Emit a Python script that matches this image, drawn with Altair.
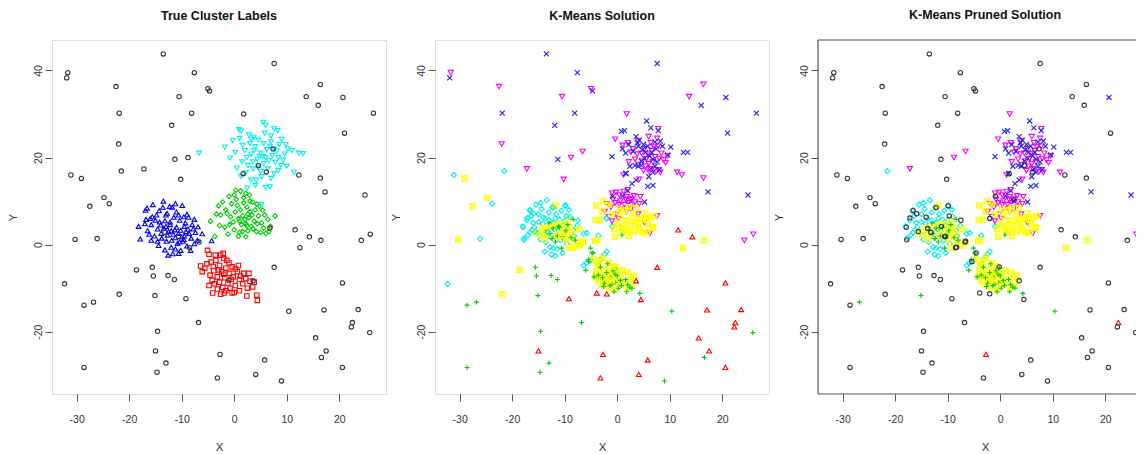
import altair as alt
import pandas as pd

# ---------------- data ----------------
# background / noise points (shared by all panels)
noise_x = [-13.5,-31.7,-31.9,-7.6,7.6,-22.5,-5.0,-4.7,-10.5,16.4,
           13.7,20.7,16.0,-21.9,-8.1,1.8,26.5,-11.9,21.0,-22.0,
           7.4,-31.1,-29.1,-11.3,-8.8,-21.5,-17.2,-10.2,1.7,4.6,
           6.1,12.3,16.4,17.3,24.9,-24.8,-23.8,-27.5,-30.3,-26.1,
           -13.2,-10.6,-8.5,-6.7,6.8,11.6,14.3,16.5,12.5,24.2,
           25.9,-18.6,-15.6,-15.4,-12.6,-11.4,-1.0,3.6,7.6,-32.3,
           -21.9,-15.1,-9.2,-28.6,-26.8,20.6,10.4,17.1,23.6,22.5,
           22.3,25.8,-6.8,-14.6,-15.0,15.5,17.5,16.6,-2.7,5.8,
           -28.6,-13.0,-14.7,-3.2,4.1,9.0,20.6]
noise_y = [43.8,39.5,38.3,39.5,41.6,36.3,35.8,35.3,34.0,36.8,
           34.0,33.8,32.0,30.2,30.2,30.0,30.2,27.4,25.6,23.1,
           22.0,16.0,15.2,19.6,20.0,16.9,17.4,15.0,16.3,18.2,
           16.7,16.0,15.3,12.1,11.4,10.8,9.4,8.8,1.2,1.4,
           2.8,1.9,-0.7,0.6,3.8,3.4,1.8,1.0,-0.7,1.0,
           2.4,-5.8,-5.2,-7.2,-7.1,-8.0,-8.2,-8.3,-5.2,-9.0,
           -11.4,-11.7,-12.4,-13.9,-13.2,-8.8,-15.3,-15.0,-14.9,-17.9,
           -18.9,-20.2,-17.9,-19.9,-24.4,-21.4,-24.4,-25.9,-25.2,-26.5,
           -28.2,-27.2,-29.3,-30.6,-29.8,-31.3,-28.2]
# k-means label of each noise point (k black, r red, g green, b blue, c cyan, m magenta, y yellow)
noise_km = list("bmbbbmmbmm" "mbbbbmbbbm" "bcybmcmmbb" "mmmbbycyyc" "cyyyyrryym"
                "myggggyrrc" "ygrggrgrrr" "rgggrrrgrr" "gggrrgr")
# pruned k-means label of each noise point
noise_pr = list("kkkkkkkkkk" "kbkkkmkkkk" "kkkkmcmkkk" "kkkbbkkkkk" "kkkkykkyyk"
                "mkkkkkykkk" "kgkkgkgkkr" "kkkkkkkkrk" "kkkkkkk")

# true clusters (panel 1)
red_x = [-5.1,-6.4,-6.1,-4.8,-2.1,-2.6,-4.1,-1.9,-0.4,4.3,4.4,1.8,2.5,3.5,-0.4,-4.4,-3.5,-2.8,-3.9,-4.6,
         -3.2,-2.4,-1.6,-0.9,-1.8,-2.8,-3.8,-1.2,-0.2,0.6,1.0,0.2,-0.8,-2.2,-3.2,1.6,2.2,0.8,-5.2,-3.0,
         -1.4,-4.2,0.0,3.0,-2.0,
         -3.6,-4.0,-2.0,-1.0,0.2,1.2,2.8,3.8,-0.6,-1.6,-2.6,-5.6,-4.8,1.0,2.4]
red_y = [-1.3,-4.9,-6.2,-2.2,-2.0,-2.4,-11.1,-11.1,-11.1,-11.6,-12.8,-6.6,-10.0,-9.7,-5.1,-4.0,-3.6,-4.8,-6.0,-7.0,
         -7.4,-6.2,-5.4,-6.6,-7.6,-8.6,-9.0,-8.8,-7.4,-6.2,-8.0,-9.4,-10.0,-9.8,-10.2,-9.0,-7.8,-4.8,-4.4,-5.8,
         -3.6,-8.2,-11.0,-8.4,-6.8,
         -2.4,-5.0,-3.2,-4.2,-5.6,-7.2,-6.6,-8.6,-8.0,-10.6,-11.4,-5.4,-9.4,-10.6,-11.8]
green_x = [-4.5,-3.7,-3.0,-1.0,0.3,1.2,7.8,6.0,0.8,2.2,4.3,5.4,-0.7,2.2,-2.2,-1.6,-0.5,0.4,1.8,2.9,
           3.5,2.4,1.2,0.2,-0.9,0.0,1.0,1.6,2.8,3.2,2.6,1.6,3.8,4.6,5.2,6.4,6.9,4.2,5.0,3.0,
           4.0,-2.6,-1.8,0.6,2.0,2.4,3.4,-1.2,5.6,1.8,
           0.8,1.4,2.6,3.6,-0.2,-1.4,3.0,4.8,5.8,0.0,-2.8,-3.4,6.6,1.0,2.2,4.4]
green_y = [5.4,1.9,8.9,11.1,12.5,12.3,6.6,2.6,1.9,1.8,9.3,7.9,6.4,4.8,9.8,8.0,9.4,10.4,10.8,11.4,
           9.8,8.6,8.0,7.5,4.6,3.4,5.4,6.6,6.2,4.2,3.2,3.0,5.4,6.6,5.0,5.8,4.2,3.0,2.8,7.6,
           8.0,6.8,4.0,9.0,5.8,4.4,6.8,2.4,3.8,9.6,
           6.0,4.6,7.0,3.6,5.2,7.2,10.0,8.8,6.8,11.4,4.4,7.0,3.0,2.8,11.8,4.8]
blue_x = [-13.5,-9.9,-15.5,-16.9,-17.9,-18.2,-12.3,-11.8,-6.1,-6.9,-7.6,-8.3,-10.6,-12.6,-4.3,-9.6,-14.8,-16.0,-17.0,-16.5,
          -15.2,-14.0,-13.2,-12.5,-11.6,-11.0,-10.2,-9.5,-8.8,-8.2,-7.4,-13.8,-12.9,-11.9,-10.8,-9.8,-9.0,-11.2,-12.0,-13.0,
          -11.5,-10.4,-9.3,-12.2,-14.6,-15.8,-14.3,-11.0,-8.0,-7.0,-10.0,-12.7,-13.4,-11.3,-10.6,-9.2,-15.0,-16.2,-13.9,-12.2,
          -8.7,-10.2,-11.7,-9.5,-14.6,
          -16.8,-15.6,-14.2,-13.0,-12.0,-11.2,-10.4,-9.6,-8.6,-7.8,-13.6,-12.8,-10.6,-9.0,-15.8,-14.4,-13.2,-7.6,-16.6,-11.2]
blue_y = [10.0,9.0,9.2,7.9,1.3,4.2,8.8,8.6,2.5,4.1,5.8,-1.3,-2.0,-2.4,0.9,6.4,6.8,6.0,4.8,3.2,
          2.0,4.5,5.5,3.0,2.4,4.0,3.3,2.0,3.6,1.5,2.8,1.5,0.8,1.0,0.3,0.8,-0.3,-1.0,-0.6,6.8,
          6.3,5.6,5.0,4.6,3.6,4.6,7.8,7.5,4.6,1.0,1.8,2.2,3.8,3.4,2.6,3.0,5.6,2.4,2.6,5.2,
          6.3,-1.3,-2.1,4.2,0.8,
          5.8,6.4,5.2,4.2,3.2,1.6,0.6,1.2,2.6,3.6,8.6,7.2,6.8,7.0,1.0,-0.2,-1.2,0.2,8.4,9.4]
cyan_x = [5.5,0.9,1.3,3.7,8.3,7.6,-0.3,10.2,12.3,13.1,11.4,-0.8,-6.7,1.3,3.2,4.2,2.5,6.0,6.8,5.2,
          9.3,8.9,7.6,4.0,5.0,6.2,7.3,8.1,6.6,5.6,4.4,3.2,2.0,1.5,2.6,3.6,5.0,6.4,7.8,8.6,
          7.0,5.6,4.6,3.0,1.6,9.6,10.0,0.5,2.2,4.8,6.0,3.8,7.0,2.8,9.0,0.2,
          3.6,4.6,5.4,6.8,7.6,8.4,2.4,3.2,1.0,5.8,9.8,11.0,4.0,5.2,7.0,-1.8,6.0,8.4]
cyan_y = [28.1,26.4,26.1,24.7,26.2,26.6,23.9,22.0,21.0,20.9,16.6,19.9,21.0,15.7,14.8,14.8,13.0,13.1,13.3,9.2,
          19.4,18.2,16.3,22.5,21.0,21.8,20.5,21.5,19.3,18.6,19.6,20.8,21.6,19.0,18.2,17.4,16.8,17.4,18.9,23.0,
          23.6,23.2,24.0,23.2,22.8,20.8,18.0,17.6,16.5,20.3,20.0,21.6,25.0,25.2,24.2,21.2,
          19.0,17.8,20.2,22.6,21.8,20.0,20.0,24.2,24.4,25.6,23.0,21.6,13.6,15.6,15.2,22.4,27.4,17.0]

# k-means cluster-area points (panels 2 and 3)
km_cyan_x = [-13.4,-9.9,-15.5,-16.6,-17.7,-18.0,-12.5,-10.4,-6.4,-5.8,-17.2,-16.4,-15.8,-15.0,-14.4,-13.8,-13.0,-12.4,-11.6,-11.0,
             -12.2,-14.2,-15.2,-16.6,-14.6,-13.6,-12.8,-11.4,-10.8,-12.0,-13.2,-11.2,-10.2,-9.6,-8.4,-7.6,-9.0,-10.4,-14.0,-16.0,
             -12.6,-11.8,-6.4,-5.8,-5.0,-3.2,-2.8,-2.4,-2.0,-3.6,-3.6,-2.0,-1.0,
             -15.0,-13.0,-11.8,-10.6,-14.6,-16.2,-12.2,-13.8,-10.0,-8.2,-17.0,-9.2]
km_cyan_y = [10.2,9.1,9.2,8.0,1.5,4.2,-2.3,-1.9,2.5,2.7,5.6,6.6,4.0,7.0,8.2,6.0,7.4,8.6,7.0,5.8,
             5.0,4.8,2.6,2.8,1.2,0.6,-0.6,-1.0,1.0,3.6,3.0,3.2,2.2,0.2,3.4,4.4,6.4,4.4,2.4,5.0,
             1.6,-2.6,-4.8,-4.2,-3.6,-3.4,-2.8,-2.2,-1.6,-4.6,2.1,6.1,4.2,
             5.2,5.6,6.0,7.8,9.6,3.4,-0.8,-1.6,5.4,2.0,2.2,8.0]
km_mag_x = [-0.4,1.0,2.0,2.6,3.4,4.0,4.6,5.2,5.6,6.0,6.6,7.2,7.8,7.6,8.4,8.8,9.2,6.2,5.0,8.2,
            7.4,6.4,7.8,4.0,1.2,2.2,4.2,11.4,7.8,9.6,5.8,4.8,6.8,3.0,-6.6,
            -1.0,-0.2,0.4,1.2,1.8,2.6,3.4,-2.0,-1.2,-0.4,0.6,1.4,2.2,3.0,4.2,
            -1.6,-1.0,-0.2,0.6,1.8,2.6,4.0,5.2,6.2,7.6,4.4,-2.4,0.2,
            3.8,5.4,7.0,6.0,8.0,0.4,1.6,3.2,-0.8,2.0]
km_mag_y = [24.2,22.8,23.4,21.2,19.6,18.4,21.0,22.0,19.8,18.6,21.6,20.2,22.6,24.4,21.0,19.4,18.8,17.4,17.0,16.6,
            16.8,23.4,26.6,23.8,16.0,19.0,15.0,16.6,17.2,20.4,20.8,19.2,19.0,22.0,21.4,
            11.8,12.0,11.4,12.2,11.0,10.6,9.8,9.4,8.6,9.6,10.0,9.2,9.6,8.6,9.4,
            6.4,5.4,7.0,8.2,7.6,8.2,7.0,5.0,2.6,6.6,11.0,7.6,6.0,
            20.8,18.0,22.4,24.8,19.8,9.2,10.4,11.2,10.4,12.6]
km_blue_x = [-1.0,0.8,1.4,1.0,1.6,1.6,2.4,3.4,4.0,3.6,4.2,4.0,5.0,5.6,6.4,7.2,7.8,8.6,6.2,5.4,
             6.8,7.6,6.4,6.8,8.0,10.2,12.6,13.4,9.6,5.8,6.8,2.8,3.6,2.0,1.0,5.2,2.6,4.6,3.0,5.8,
             4.8,6.6,7.2,5.2,3.8,8.2,2.2,6.0]
km_blue_y = [20.2,26.0,26.2,22.0,21.0,16.4,18.0,18.2,18.0,24.8,24.0,22.6,23.0,28.4,26.8,23.6,26.2,22.6,20.4,21.2,
             19.6,19.0,17.4,16.6,17.2,22.4,21.2,21.2,20.6,13.4,13.6,14.0,14.8,12.4,11.2,9.8,10.0,19.2,21.4,22.6,
             21.8,21.2,18.0,19.8,23.4,23.8,23.0,15.6]
km_yel_x = [-15.6,-14.8,-13.4,-12.6,-12.0,-11.0,-10.2,-9.4,-9.0,-8.6,-9.8,-8.2,-7.2,-9.2,-11.8,-7.2,-6.6,-10.8,-13.8,-14.2,
            -4.0,-2.6,-1.6,-3.4,-3.8,-2.8,-1.0,-0.6,0.0,0.6,1.2,1.8,2.2,2.6,3.0,3.4,3.8,4.4,4.8,5.2,
            5.8,6.4,6.8,7.0,4.8,1.4,2.2,0.4,3.6,1.0,2.4,5.6,-0.4,
            -4.4,-3.4,-4.0,-3.2,-2.6,-2.0,-1.4,-0.6,-0.2,0.6,-1.0,-2.2,-3.0,-1.8,-0.6,0.2,1.4,2.0,2.6,1.8,
            2.8,-3.6,-4.2,-1.6,3.2,-2.8,-4.2,-4.1,
            0.8,1.6,3.2,4.0,5.4,-1.2,-2.4,0.4,1.0,-3.8,-11.6,-9.6]
km_yel_y = [3.0,2.2,2.8,4.2,2.0,2.6,3.8,5.2,4.0,2.4,1.2,0.6,-0.2,-0.8,9.0,3.6,0.6,4.8,1.4,3.8,
            9.0,10.0,9.2,5.6,1.0,7.6,7.0,3.6,5.0,6.6,4.2,3.0,2.0,5.4,7.0,4.6,6.0,3.4,5.8,7.2,
            4.8,6.2,4.0,6.6,2.8,7.8,8.6,8.2,8.4,3.2,3.8,2.8,1.8,
            -3.4,-4.0,-6.0,-6.8,-5.6,-7.0,-6.0,-5.0,-6.6,-7.6,-8.2,-8.6,-9.2,-9.8,-10.4,-9.0,-8.6,-6.4,-7.8,-9.8,
            -9.4,-8.0,-7.4,-4.2,-7.2,-3.0,0.8,5.7,
            3.8,5.6,3.0,4.8,6.0,-6.8,-7.6,-8.4,-6.0,-4.8,4.6,2.8]
km_green_x = [-13.6,-12.8,-12.2,-11.4,-11.0,-10.4,-9.8,-8.8,-8.4,-11.8,-10.6,-8.0,-13.0,-5.1,-4.8,
              -5.5,-6.0,-4.4,-3.6,-2.8,-2.0,-1.8,-1.2,-0.8,-0.4,0.0,-1.4,-0.6,0.2,0.6,
              1.6,2.0,2.4,2.8,4.3,-2.4,-0.2,0.9,
              -12.4,-9.4,-1.0,0.8,-2.6,1.8,-3.2,-0.4]
km_green_y = [3.4,2.6,3.8,2.0,4.0,1.6,3.2,1.6,5.8,0.6,-0.8,1.0,5.0,-0.8,-1.9,
              -3.4,-5.9,-7.4,-7.0,-7.6,-6.4,-4.4,-7.6,-6.0,-8.6,-7.2,-9.4,-10.8,-10.0,-8.2,
              -8.0,-9.2,-9.8,-10.0,-11.2,-8.8,-5.4,2.2,
              1.4,4.6,-9.0,-9.4,-9.6,-10.8,-5.2,-6.8]
# cluster-area points that the pruned solution drops (black in panel 3)
drop_x = [-17.9,-17.8,-16.6,-15.9,-17.2,-14.1,-13.8,-12.2,-9.9,-9.7,-11.2,-10.4,-8.3,-7.5,-6.6,-15.6,
          -5.4,-4.6,-3.9,-2.0,-0.2,4.5,-0.9,-2.0,2.6]
drop_y = [4.0,1.1,7.8,7.1,6.1,6.3,3.7,8.5,8.9,6.6,4.2,1.9,-0.6,5.6,0.8,3.0,
          -3.9,-1.9,-11.1,-11.3,-5.1,-12.6,11.1,6.0,10.3]
drop_km = list("cccccc" "ycccggycyc" "ggrryrbcm")

# ---------------- styling ----------------
KM_KEY = {"k": "out", "r": "k_red", "g": "k_green", "b": "k_blue",
          "c": "k_cyan", "m": "k_mag", "y": "k_yel"}
STYLE = {  # key: (shape, colour, size)
    "out": ("circle", "#333333", 19),
    "t_red": ("square", "#ff0000", 28),
    "t_green": ("diamond", "#00cd00", 42),
    "t_blue": ("triangle-up", "#0000ff", 50),
    "t_cyan": ("triangle-down", "#00f0f0", 50),
    "k_red": ("triangle-up", "#ff0000", 50),
    "k_green": ("M-1,0H1M0,-1V1", "#00cd00", 50),
    "k_blue": ("M-1,-1L1,1M-1,1L1,-1", "#2020ff", 32),
    "k_cyan": ("diamond", "#00f0f0", 42),
    "k_mag": ("triangle-down", "#ff00ff", 50),
    "k_yel": ("M-1,-1H1V1H-1ZM-1,-1L1,1M-1,1L1,-1", "#ffff00", 28),
}
keys = list(STYLE)


def frame(xs, ys, styles):
    if isinstance(styles, str):
        styles = [styles] * len(xs)
    return pd.DataFrame({"x": xs, "y": ys, "s": styles})


df1 = pd.concat([
    frame(red_x, red_y, "t_red"), frame(green_x, green_y, "t_green"),
    frame(blue_x, blue_y, "t_blue"), frame(cyan_x, cyan_y, "t_cyan"),
    frame(noise_x, noise_y, "out"),
], ignore_index=True)

km_common = [
    frame(km_cyan_x, km_cyan_y, "k_cyan"), frame(km_mag_x, km_mag_y, "k_mag"),
    frame(km_blue_x, km_blue_y, "k_blue"), frame(km_yel_x, km_yel_y, "k_yel"),
    frame(km_green_x, km_green_y, "k_green"),
]
df2 = pd.concat(km_common + [
    frame(drop_x, drop_y, [KM_KEY[c] for c in drop_km]),
    frame(noise_x, noise_y, [KM_KEY[c] for c in noise_km]),
], ignore_index=True)
df3 = pd.concat(km_common + [
    frame(noise_x, noise_y, [KM_KEY[c] for c in noise_pr]),
    frame(drop_x, drop_y, "out"),
], ignore_index=True)

FONT = "Liberation Sans"
W, H = 334, 354
X_DOM = [-34.7, 28.9]
Y_DOM = [-34.3, 47.0]
PX = W / (X_DOM[1] - X_DOM[0])
W3 = 318                      # the third panel runs off the right edge of the picture
X_DOM3 = [X_DOM[0], X_DOM[0] + W3 / PX]


def x_axis():
    return alt.Axis(values=[-30, -20, -10, 0, 10, 20], labelExpr="toString(datum.value)",
                    domain=False, grid=False, tickSize=7, tickColor="#555", tickWidth=1,
                    labelFont=FONT, labelFontSize=10.5, labelColor="#333", labelPadding=13,
                    labelFlush=False, labelOverlap=False,
                    title="X", titleFont=FONT, titleFontSize=11.5, titleFontWeight="normal",
                    titleColor="#333", titleX=W / 2, titleY=53, titleBaseline="middle",
                    titleAlign="center")


def y_axis():
    return alt.Axis(values=[-20, 0, 20, 40], labelExpr="toString(datum.value)",
                    domain=False, grid=False, tickSize=7, tickColor="#555", tickWidth=1,
                    labelFont=FONT, labelFontSize=10.5, labelColor="#333", labelPadding=4,
                    labelAngle=270, labelAlign="center", labelBaseline="alphabetic",
                    labelFlush=False, labelOverlap=False,
                    title="Y", titleFont=FONT, titleFontSize=11, titleFontWeight="normal",
                    titleColor="#333", titleAngle=270, titleX=-39, titleY=H / 2,
                    titleBaseline="middle", titleAlign="center")


def points(df, xdom, clip=False):
    return alt.Chart(df).mark_point(filled=False, strokeWidth=1.1, opacity=1, clip=clip).encode(
        x=alt.X("x:Q", scale=alt.Scale(domain=xdom, nice=False, zero=False), axis=x_axis()),
        y=alt.Y("y:Q", scale=alt.Scale(domain=Y_DOM, nice=False, zero=False), axis=y_axis()),
        shape=alt.Shape("s:N", scale=alt.Scale(domain=keys, range=[STYLE[k][0] for k in keys]), legend=None),
        color=alt.Color("s:N", scale=alt.Scale(domain=keys, range=[STYLE[k][1] for k in keys]), legend=None),
        size=alt.Size("s:N", scale=alt.Scale(domain=keys, range=[STYLE[k][2] for k in keys]), legend=None),
    )


def title(text, dx=0):
    return alt.TitleParams(text=text, font=FONT, fontSize=12.5, fontWeight="bold", color="#111",
                           anchor="middle", baseline="alphabetic", offset=8, dx=dx)


p1 = points(df1, X_DOM).properties(width=W, height=H, title=title("True Cluster Labels"))
p2 = points(df2, X_DOM).properties(width=W, height=H, title=title("K-Means Solution"))

edge = alt.Chart(pd.DataFrame({"e": [0]}))
left_edge = edge.mark_rule(color="#555", strokeWidth=1.2).encode(
    x=alt.value(0), y=alt.value(0), y2=alt.value(H))
top_edge = edge.mark_rule(color="#555", strokeWidth=1.2).encode(
    x=alt.value(0), x2=alt.value(W3), y=alt.value(0))
bottom_edge = edge.mark_rule(color="#555", strokeWidth=1.2).encode(
    x=alt.value(0), x2=alt.value(W3), y=alt.value(H))
p3 = alt.layer(points(df3, X_DOM3, clip=True), left_edge, top_edge, bottom_edge).properties(
    width=W3, height=H, title=title("K-Means Pruned Solution", dx=(W - W3) / 2),
    view=alt.ViewBackground(strokeOpacity=0))

chart = alt.hconcat(p1, p2, p3, spacing=49, bounds="flush").properties(
    padding={"left": -2, "top": 0, "right": 0, "bottom": 0}
).configure_view(stroke="#555", strokeWidth=1.2).configure(background="white")

chart.save("out.html", embed_options={"renderer": "svg", "actions": False})
